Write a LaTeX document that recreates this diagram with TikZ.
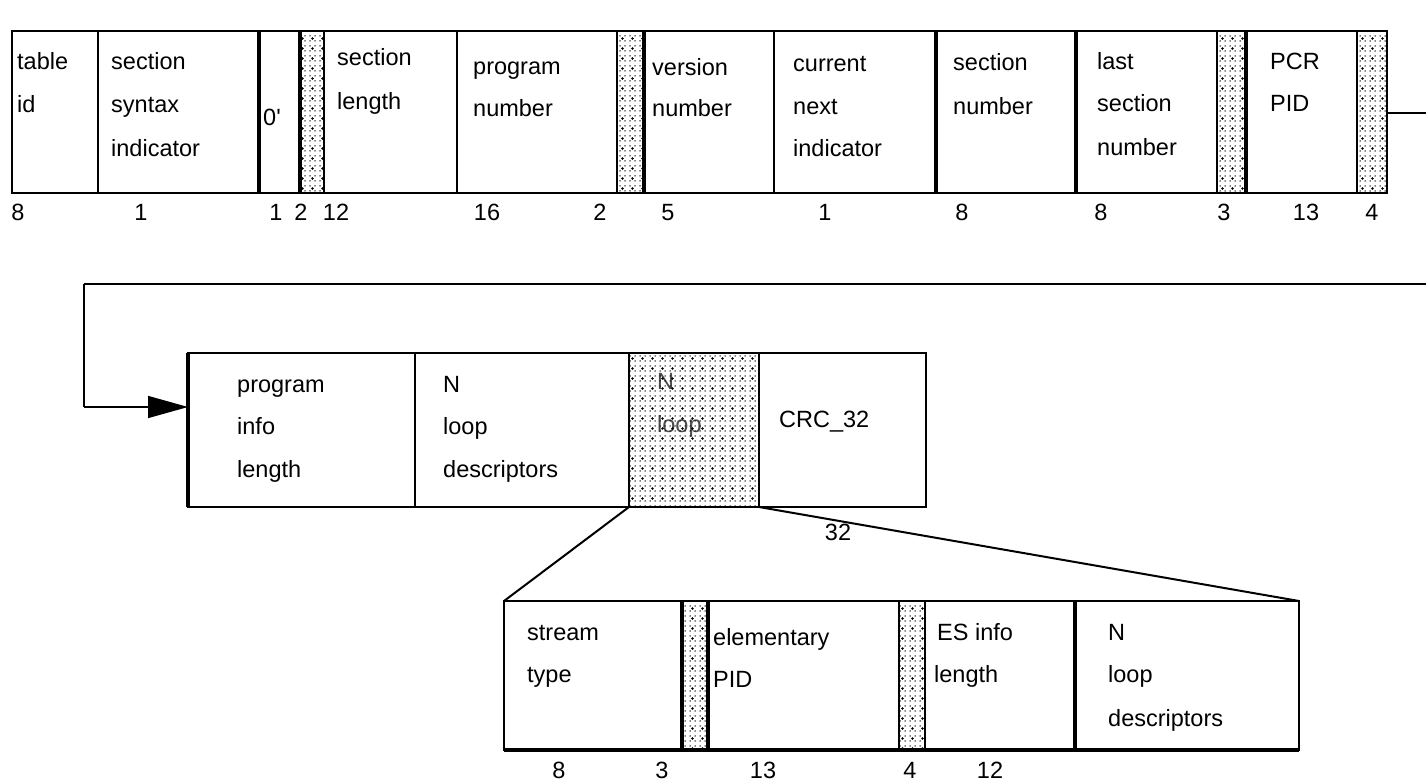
\documentclass[tikz,border=0pt]{standalone}
\usepackage{fontspec}
\setmainfont{Liberation Sans}
\usetikzlibrary{arrows.meta,patterns.meta}
\tikzset{
  fieldbox/.style={draw, line width=1.5pt, inner sep=0pt, outer sep=0pt},
  txt/.style={anchor=base west, inner sep=0pt, font=\fontsize{23.5}{28}\selectfont},
  num/.style={anchor=base, inner sep=0pt, font=\fontsize{23.5}{28}\selectfont},
  heavy/.style={line width=3.2pt},
  link/.style={line width=1.5pt},
}
% field box: name, x1, x2, y1, y2
\newcommand\fld[5]{\node[fieldbox, minimum width={#3pt-#2pt}, minimum height={#5pt-#4pt}] (#1) at ({(#2+#3)/2},{(#4+#5)/2}) {};}
% dotted (reserved) fill of a named box
\newcommand\resfill[1]{%
  \path[pattern={Dots[distance=5pt,radius=0.75pt]}] (#1.south west) rectangle (#1.north east);
  \path[pattern={Dots[distance=10pt,radius=1.4pt,xshift=2.5pt,yshift=2.5pt]}] (#1.south west) rectangle (#1.north east);
  \draw[line width=1.5pt] (#1.south west) rectangle (#1.north east);}
\newcommand\tx[4]{\node[txt] (#1) at (#2,#3) {#4};}
\newcommand\nm[4]{\node[num] (#1) at (#2,#3) {#4};}
\begin{document}
\begin{tikzpicture}[x=1pt,y=-1pt]
\fill[white] (0,0) rectangle (1426,781);
\useasboundingbox (0,0) rectangle (1426,781);

% ---------- top row ----------
\fld{tid}{12}{98}{31}{193}
\fld{ssi}{98}{259}{31}{193}
\fld{zero}{259}{300}{31}{193}
\fld{ra}{300}{324}{31}{193}
\fld{slen}{324}{457}{31}{193}
\fld{pnum}{457}{617}{31}{193}
\fld{rb}{617}{644}{31}{193}
\fld{vnum}{644}{774}{31}{193}
\fld{cni}{774}{936}{31}{193}
\fld{snum}{936}{1076}{31}{193}
\fld{lsn}{1076}{1217}{31}{193}
\fld{rc}{1217}{1246}{31}{193}
\fld{pcr}{1246}{1357}{31}{193}
\fld{rd}{1357}{1387}{31}{193}
\resfill{ra}\resfill{rb}\resfill{rc}\resfill{rd}
\draw[heavy] (ssi.north east) -- (ssi.south east);
\draw[heavy] (zero.north east) -- (zero.south east);
\draw[heavy] (vnum.north west) -- (vnum.south west);
\draw[heavy] (snum.north west) -- (snum.south west);
\draw[heavy] (lsn.north west) -- (lsn.south west);
\draw[heavy] (pcr.north west) -- (pcr.south west);

\tx{t1}{17}{70}{table}
\tx{t2}{17}{113}{id}
\tx{t3}{111}{70}{section}
\tx{t4}{111}{113}{syntax}
\tx{t5}{111}{156}{indicator}
\tx{t6}{263}{126}{0\textquotesingle}
\tx{t7}{337}{66}{section}
\tx{t8}{337}{110}{length}
\tx{t9}{473}{75}{program}
\tx{t10}{473}{117}{number}
\tx{t11}{652}{76}{version}
\tx{t12}{652}{117}{number}
\tx{t13}{793}{72}{current}
\tx{t14}{793}{115}{next}
\tx{t15}{793}{157}{indicator}
\tx{t16}{953}{71}{section}
\tx{t17}{953}{115}{number}
\tx{t18}{1097}{70}{last}
\tx{t19}{1097}{112}{section}
\tx{t20}{1097}{155}{number}
\tx{t21}{1270}{70}{PCR}
\tx{t22}{1270}{112}{PID}

\nm{n1}{18}{220}{8}
\nm{n2}{141}{220}{1}
\nm{n3}{276}{220}{1}
\nm{n4}{301}{220}{2}
\nm{n5}{336}{220}{12}
\nm{n6}{487}{220}{16}
\nm{n7}{600}{220}{2}
\nm{n8}{668}{220}{5}
\nm{n9}{825}{220}{1}
\nm{n10}{962}{220}{8}
\nm{n11}{1101}{220}{8}
\nm{n12}{1224}{220}{3}
\nm{n13}{1306}{220}{13}
\nm{n14}{1372}{220}{4}

% ---------- middle row ----------
\fld{pil}{188}{415}{353}{507}
\fld{nld}{415}{629}{353}{507}
\fld{loop}{629}{759}{353}{507}
\fld{crc}{759}{926}{353}{507}
\draw[heavy] (pil.north west) -- (pil.south west);

\tx{m1}{237}{392}{program}
\tx{m2}{237}{434}{info}
\tx{m3}{237}{477}{length}
\tx{m4}{443}{392}{N}
\tx{m5}{443}{434}{loop}
\tx{m6}{443}{477}{descriptors}
\node[txt, text=black!70] (m7) at (657,389) {N};
\node[txt, text=black!70] (m8) at (657,432) {loop};
\resfill{loop}
\tx{m9}{779}{427}{CRC\_32}
\nm{m10}{838}{540}{32}

% ---------- bottom row ----------
\fld{st}{504}{682}{601}{750}
\fld{re}{682}{708}{601}{750}
\fld{epid}{708}{899}{601}{750}
\fld{rf}{899}{925}{601}{750}
\fld{esil}{925}{1075}{601}{750}
\fld{nld2}{1075}{1299}{601}{750}
\resfill{re}\resfill{rf}
\draw[heavy] (re.north west) -- (re.south west);
\draw[heavy] (re.north east) -- (re.south east);
\draw[heavy] (nld2.north west) -- (nld2.south west);
\draw[heavy] (st.south west) -- (nld2.south east);

\tx{b1}{527}{640}{stream}
\tx{b2}{527}{682}{type}
\tx{b3}{713}{645}{elementary}
\tx{b4}{713}{687}{PID}
\tx{b5}{937}{640}{ES info}
\tx{b6}{934}{682}{length}
\tx{b7}{1108}{640}{N}
\tx{b8}{1108}{682}{loop}
\tx{b9}{1108}{726}{descriptors}

\nm{b10}{559}{778}{8}
\nm{b11}{662}{778}{3}
\nm{b12}{763}{778}{13}
\nm{b13}{910}{778}{4}
\nm{b14}{990}{778}{12}

% ---------- connectors ----------
\coordinate (outA) at (1426,113);
\coordinate (inA) at (1426,284);
\coordinate (turnA) at (84,284);
\coordinate (turnB) at (84,407);
\draw[link] (rd.east |- outA) -- (outA);
\draw[line width=2.5pt] (inA) -- (turnA);
\draw[link] (turnA) -- (turnB);
\draw[-{Triangle[length=40pt,width=22pt]}, link] (turnB) -- (turnB -| pil.west);
\draw[line width=2pt] (loop.south west) -- (st.north west);
\draw[line width=2pt] (loop.south east) -- (nld2.north east);
\end{tikzpicture}
\end{document}
